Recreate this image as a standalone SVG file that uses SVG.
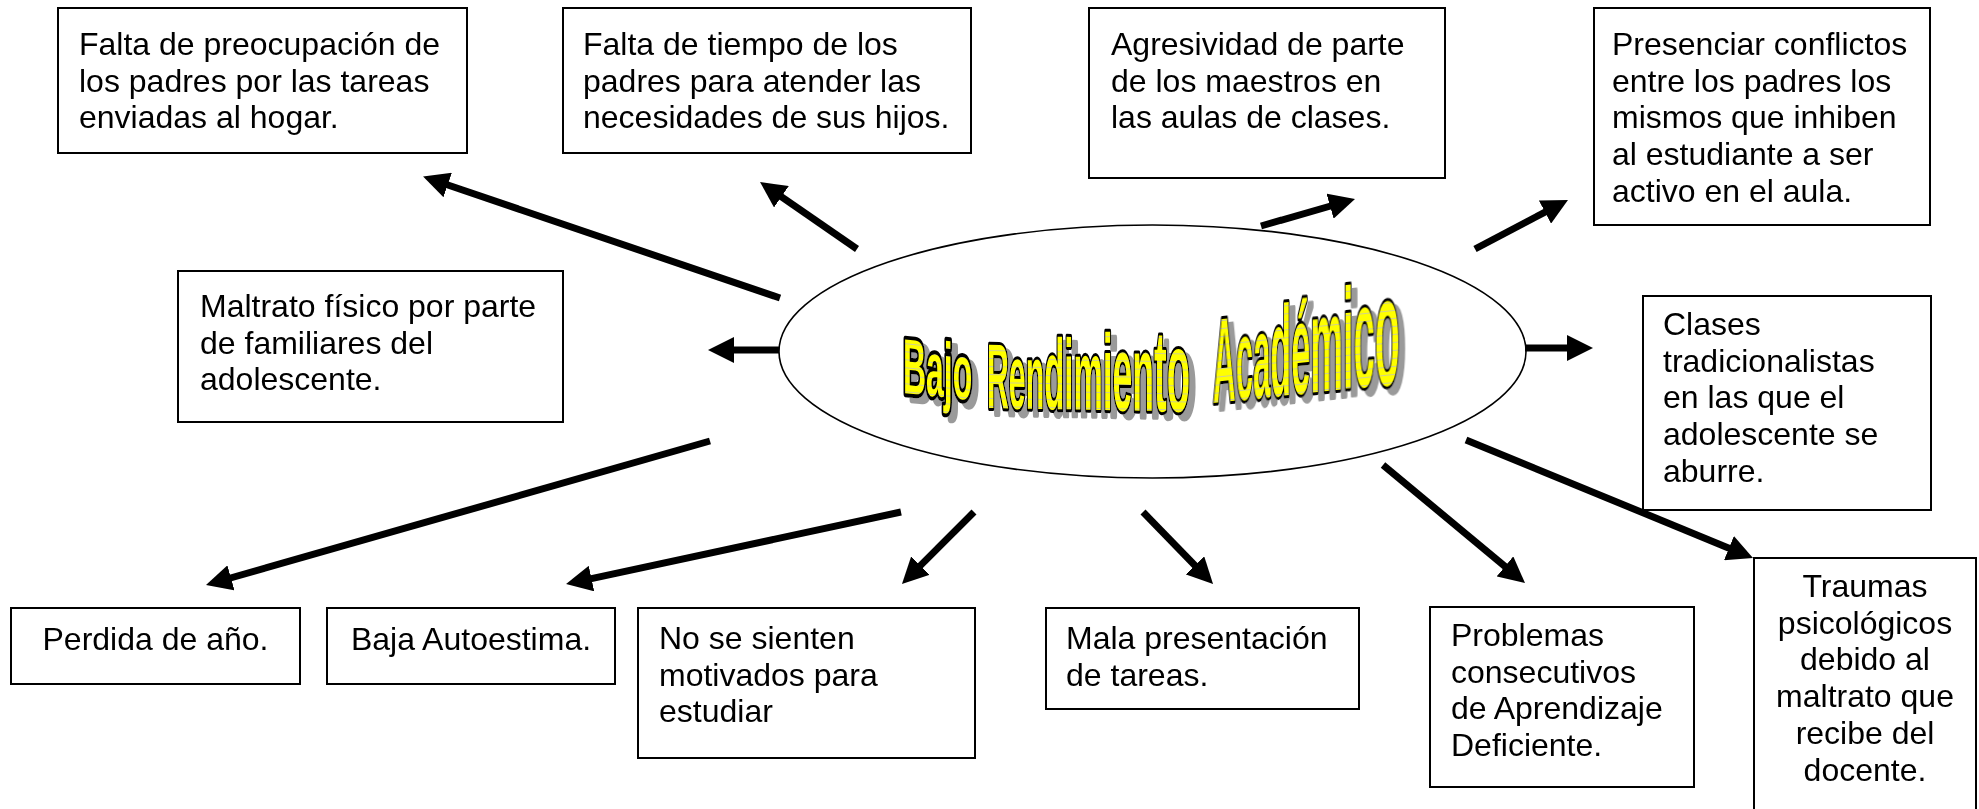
<svg xmlns="http://www.w3.org/2000/svg" width="1979" height="809" viewBox="0 0 1979 809">
<defs>
<style>
.box{fill:#fff;stroke:#000;stroke-width:2}
.t{font-family:"Liberation Sans",Arial,sans-serif;font-size:32px;fill:#000}
.c{text-anchor:middle}
.arr{stroke:#000;stroke-width:7;fill:none;marker-end:url(#ah)}
.wa{font-family:"Liberation Sans",Arial,sans-serif;font-weight:bold}
.wf{fill:url(#stripes);stroke:#000;stroke-width:6;paint-order:stroke;vector-effect:non-scaling-stroke;stroke-linejoin:round}
</style>
<pattern id="stripes" width="10" height="8" patternUnits="userSpaceOnUse"><rect width="10" height="8" fill="#ffff00"/><rect y="6" width="10" height="1" fill="#d0d090"/></pattern>
<filter id="shadow" x="-10%" y="-20%" width="130%" height="150%">
<feOffset in="SourceAlpha" dx="6" dy="6" result="off"/>
<feFlood flood-color="#9a9a9a"/>
<feComposite in2="off" operator="in" result="sh"/>
<feMerge><feMergeNode in="sh"/><feMergeNode in="SourceGraphic"/></feMerge>
</filter>
<marker id="ah" markerUnits="userSpaceOnUse" viewBox="0 0 26 26" markerWidth="26" markerHeight="26" refX="6" refY="13" orient="auto"><path d="M0,0 L26,13 L0,26 z" fill="#000"/></marker>
</defs>
<rect width="1979" height="809" fill="#fff"/>

<g id="center">
<ellipse cx="1152.5" cy="351.5" rx="373.5" ry="126.5" fill="#fff" stroke="#000" stroke-width="1.6"/>
<g id="title" filter="url(#shadow)">
<text class="wa wf" font-size="78" transform="translate(903,393) skewY(5.7) scale(0.41,1)">Bajo</text>
<text class="wa wf" transform="translate(987,408) skewY(1) scale(0.329,1)"><tspan font-size="92">Ren</tspan><tspan font-size="100">dim</tspan><tspan font-size="108">ien</tspan><tspan font-size="116">to</tspan></text>
<text class="wa wf" transform="translate(1213,403) skewY(-6) scale(0.265,1)"><tspan font-size="120">A</tspan><tspan font-size="116">c</tspan><tspan font-size="118">a</tspan><tspan font-size="128">d</tspan><tspan font-size="130">é</tspan><tspan font-size="138">m</tspan><tspan font-size="142">i</tspan><tspan font-size="146">c</tspan><tspan font-size="156">o</tspan></text>
</g>
</g>

<g id="n1"><rect class="box" x="58" y="8" width="409" height="145"/>
<text class="t" x="79" y="55"><tspan x="79">Falta de preocupación de</tspan><tspan x="79" dy="36.7">los padres por las tareas</tspan><tspan x="79" dy="36.7">enviadas al hogar.</tspan></text></g>

<g id="n2"><rect class="box" x="563" y="8" width="408" height="145"/>
<text class="t" x="583" y="55"><tspan x="583">Falta de tiempo de los</tspan><tspan x="583" dy="36.7">padres para atender las</tspan><tspan x="583" dy="36.7">necesidades de sus hijos.</tspan></text></g>

<g id="n3"><rect class="box" x="1089" y="8" width="356" height="170"/>
<text class="t" x="1111" y="55"><tspan x="1111">Agresividad de parte</tspan><tspan x="1111" dy="36.7">de los maestros en</tspan><tspan x="1111" dy="36.7">las aulas de clases.</tspan></text></g>

<g id="n4"><rect class="box" x="1594" y="8" width="336" height="217"/>
<text class="t" x="1612" y="55"><tspan x="1612">Presenciar conflictos</tspan><tspan x="1612" dy="36.7">entre los padres los</tspan><tspan x="1612" dy="36.7">mismos que inhiben</tspan><tspan x="1612" dy="36.7">al estudiante a ser</tspan><tspan x="1612" dy="36.7">activo en el aula.</tspan></text></g>

<g id="n5"><rect class="box" x="178" y="271" width="385" height="151"/>
<text class="t" x="200" y="317"><tspan x="200">Maltrato físico por parte</tspan><tspan x="200" dy="36.7">de familiares del</tspan><tspan x="200" dy="36.7">adolescente.</tspan></text></g>

<g id="n6"><rect class="box" x="1643" y="296" width="288" height="214"/>
<text class="t" x="1663" y="335"><tspan x="1663">Clases</tspan><tspan x="1663" dy="36.7">tradicionalistas</tspan><tspan x="1663" dy="36.7">en las que el</tspan><tspan x="1663" dy="36.7">adolescente se</tspan><tspan x="1663" dy="36.7">aburre.</tspan></text></g>

<g id="n7"><rect class="box" x="11" y="608" width="289" height="76"/>
<text class="t c" x="155.5" y="650">Perdida de año.</text></g>

<g id="n8"><rect class="box" x="327" y="608" width="288" height="76"/>
<text class="t c" x="471" y="650">Baja Autoestima.</text></g>

<g id="n9"><rect class="box" x="638" y="608" width="337" height="150"/>
<text class="t" x="659" y="649"><tspan x="659">No se sienten</tspan><tspan x="659" dy="36.7">motivados para</tspan><tspan x="659" dy="36.7">estudiar</tspan></text></g>

<g id="n10"><rect class="box" x="1046" y="608" width="313" height="101"/>
<text class="t" x="1066" y="649"><tspan x="1066">Mala presentación</tspan><tspan x="1066" dy="36.7">de tareas.</tspan></text></g>

<g id="n11"><rect class="box" x="1430" y="607" width="264" height="180"/>
<text class="t" x="1451" y="646"><tspan x="1451">Problemas</tspan><tspan x="1451" dy="36.7">consecutivos</tspan><tspan x="1451" dy="36.7">de Aprendizaje</tspan><tspan x="1451" dy="36.7">Deficiente.</tspan></text></g>

<g id="n12"><rect class="box" x="1754" y="558" width="222" height="262"/>
<text class="t c" x="1865" y="597"><tspan x="1865">Traumas</tspan><tspan x="1865" dy="36.7">psicológicos</tspan><tspan x="1865" dy="36.7">debido al</tspan><tspan x="1865" dy="36.7">maltrato que</tspan><tspan x="1865" dy="36.7">recibe del</tspan><tspan x="1865" dy="36.7">docente.</tspan></text></g>

<g id="connectors">
<line class="arr" x1="780" y1="298" x2="442" y2="183"/>
<line class="arr" x1="857" y1="249" x2="776.5" y2="193.4"/>
<line class="arr" x1="1261" y1="226" x2="1335.8" y2="204.5"/>
<line class="arr" x1="1475" y1="249" x2="1550.3" y2="209.3"/>
<line class="arr" x1="779" y1="350" x2="728" y2="350"/>
<line class="arr" x1="1525" y1="348" x2="1573" y2="348"/>
<line class="arr" x1="1466" y1="440" x2="1734.5" y2="550.4"/>
<line class="arr" x1="1383" y1="465" x2="1509.6" y2="570.2"/>
<line class="arr" x1="1143" y1="512" x2="1199.1" y2="569.7"/>
<line class="arr" x1="974" y1="512" x2="916.1" y2="569.9"/>
<line class="arr" x1="901" y1="512" x2="585.6" y2="579.8"/>
<line class="arr" x1="710" y1="441" x2="225.2" y2="579.5"/>
</g>
</svg>
